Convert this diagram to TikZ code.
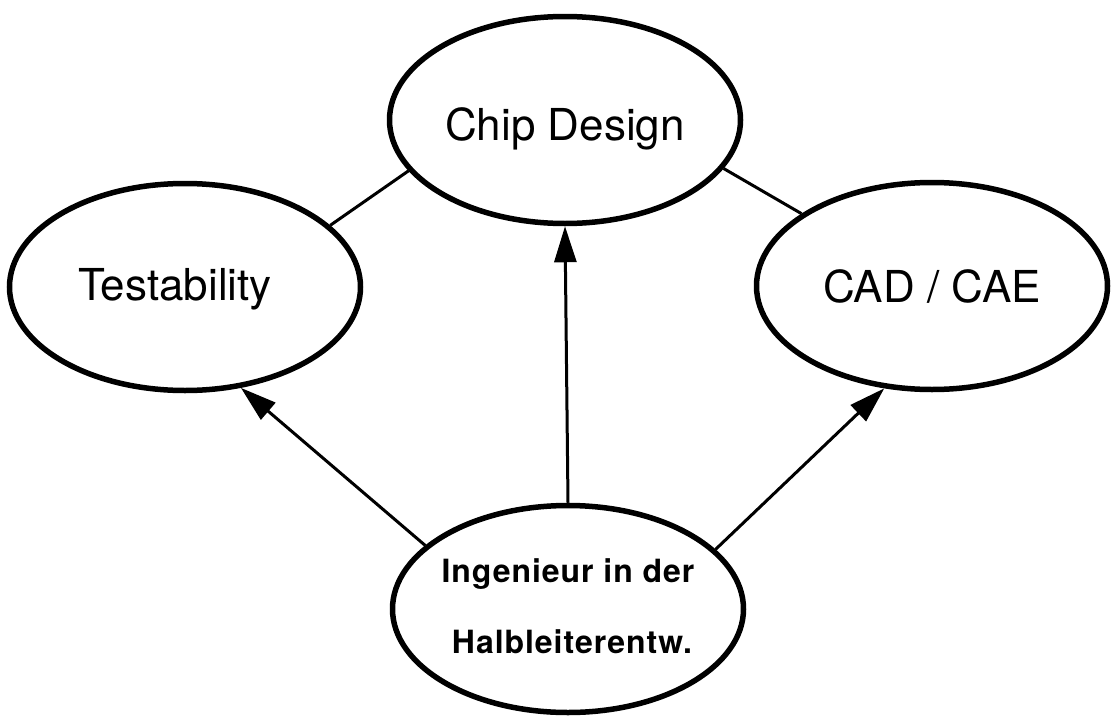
\documentclass[tikz,border=0pt]{standalone}
\usepackage{fontspec}
\setmainfont{TeX Gyre Heros}
\usetikzlibrary{shapes.geometric,arrows.meta}

\tikzset{
  blob/.style={ellipse, draw, line width=5.5pt, minimum width=351pt, minimum height=207pt, inner sep=0pt},
  topic/.style={anchor=base, inner sep=0pt, font=\fontsize{44}{50}\selectfont},
  role/.style={anchor=base, inner sep=0pt, font=\fontsize{32}{38}\selectfont\bfseries\addfontfeature{LetterSpace=3}},
  link/.style={line width=3pt},
  lead/.style={line width=3pt, -{Triangle[length=36pt,width=22pt]}}
}

\begin{document}
\begin{tikzpicture}[x=1pt, y=-1pt]
  \useasboundingbox (0,0) rectangle (1114,720);

  % the four fields
  \node[blob] (chip) at (565,120) {};
  \node[blob] (test) at (185,287) {};
  \node[blob] (cad)  at (932,286) {};
  \node[blob] (eng)  at (568,609) {};

  % their labels
  \node[topic] (chiplabel) at (565,140) {Chip Design};
  \node[topic] (testlabel) at (175,300) {Testability};
  \node[topic] (cadlabel)  at (932,302) {CAD / CAE};
  \node[role]  (englabel1) at (568,582) {Ingenieur in der};
  \node[role]  (englabel2) at (572,653) {Halbleiterentw.};

  % plain links between the neighbouring fields
  \draw[link] (test.23) -- (chip.198);
  \draw[link] (chip.343) -- (cad.151);

  % arrows from the engineer to each field
  \draw[lead] (eng.156) -- (test.299);
  \draw[lead] (eng.north) -- (chip.south);
  \draw[lead] (eng.22.5) -- (cad.245);
\end{tikzpicture}
\end{document}
